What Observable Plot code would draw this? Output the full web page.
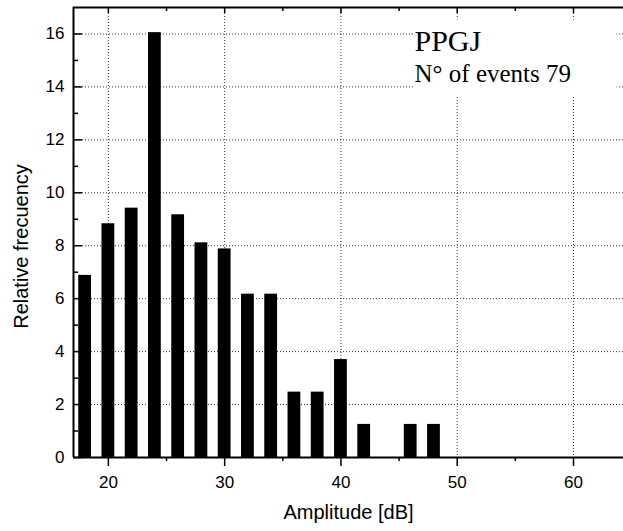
<!DOCTYPE html>
<html>
<head>
<meta charset="utf-8">
<script src="https://cdn.jsdelivr.net/npm/d3@7"></script>
<script src="https://cdn.jsdelivr.net/npm/@observablehq/plot@0.6"></script>
<style>
  body { margin: 0; background: #fff; }
</style>
</head>
<body>
<div id="chart"></div>
<script>
// ---- data ----
const amplitudes = [18, 20, 22, 24, 26, 28, 30, 32, 34, 36, 38, 40, 42, 44, 46, 48];
const frequencies = [6.88, 8.83, 9.42, 16.05, 9.17, 8.11, 7.88, 6.17, 6.17, 2.47, 2.47, 3.70, 1.25, 0, 1.25, 1.25];
const xMajorTicks = [20, 30, 40, 50, 60];
const xMinorTicks = [25, 35, 45, 55];
const yMajorTicks = [0, 2, 4, 6, 8, 10, 12, 14, 16];
const yMinorTicks = [1, 3, 5, 7, 9, 11, 13, 15];
const xDomain = [17, 64.3];
const yDomain = [0, 17];
const xTitle = "Amplitude [dB]";
const yTitle = "Relative frecuency";
const annotationTitle = "PPGJ";
const annotationSub = "N° of events 79";
const barHalfWidth = 0.55;

const data = amplitudes.map((a, i) => ({amp: a, freq: frequencies[i]}));
const blank = () => "";
const gridStyle = {stroke: "#000", strokeOpacity: 0.8, strokeDasharray: "1,2", strokeWidth: 1};
const serif = "'Liberation Serif', 'Times New Roman', serif";

const chart = Plot.plot({
  width: 623,
  height: 531,
  marginLeft: 73,
  marginRight: 0,
  marginTop: 7,
  marginBottom: 74,
  style: {fontFamily: "'Liberation Sans', Arial, sans-serif", fontSize: "17px", background: "#fff", color: "#000"},
  x: {domain: xDomain, label: null},
  y: {domain: yDomain, label: null},
  marks: [
    Plot.gridY(yMajorTicks.filter(d => d > 0), gridStyle),
    Plot.gridX(xMajorTicks, gridStyle),
    Plot.rectY(data, {x1: d => d.amp - barHalfWidth, x2: d => d.amp + barHalfWidth, y: "freq", fill: "#000"}),
    // white box behind the annotation
    Plot.frame({fill: "#fff", stroke: null, insetLeft: 340, insetRight: 7, insetTop: 12, insetBottom: 361}),
    Plot.text([annotationTitle], {text: d => d, frameAnchor: "top-left", dx: 341, dy: 33.4, textAnchor: "start", lineAnchor: "middle", fontSize: 30, fontFamily: serif, fill: "#000"}),
    Plot.text([annotationSub], {text: d => d, frameAnchor: "top-left", dx: 341, dy: 66.7, textAnchor: "start", lineAnchor: "middle", fontSize: 25, fontFamily: serif, fill: "#000"}),
    // frame lines
    Plot.ruleX([xDomain[0]], {stroke: "#000", strokeWidth: 2}),
    Plot.ruleY([yDomain[0]], {stroke: "#000", strokeWidth: 2}),
    Plot.ruleY([yDomain[1]], {stroke: "#000", strokeWidth: 2}),
    // bottom axis: outward ticks + labels
    Plot.axisX({anchor: "bottom", ticks: xMajorTicks, tickSize: 9, tickFormat: blank, strokeWidth: 1.5, label: null}),
    Plot.axisX({anchor: "bottom", ticks: xMinorTicks, tickSize: 4, tickFormat: blank, strokeWidth: 1.5, label: null}),
    Plot.axisX({anchor: "bottom", ticks: xMajorTicks, tickSize: 0, tickPadding: 18, fontSize: 17, label: null}),
    // top axis: inward ticks
    Plot.axisX({anchor: "top", ticks: xMajorTicks, tickSize: -5, tickFormat: blank, strokeWidth: 1.5, label: null}),
    Plot.axisX({anchor: "top", ticks: xMinorTicks, tickSize: -3, tickFormat: blank, strokeWidth: 1.5, label: null}),
    // left axis: inward ticks + labels
    Plot.axisY({anchor: "left", ticks: yMajorTicks, tickSize: -9, tickFormat: blank, strokeWidth: 1.5, label: null}),
    Plot.axisY({anchor: "left", ticks: yMinorTicks, tickSize: -5, tickFormat: blank, strokeWidth: 1.5, label: null}),
    Plot.axisY({anchor: "left", ticks: yMajorTicks, tickSize: 0, tickPadding: 9, fontSize: 17, label: null}),
    // axis titles
    Plot.text([xTitle], {text: d => d, frameAnchor: "bottom", dy: 55, textAnchor: "middle", lineAnchor: "middle", fontSize: 20, fill: "#000"}),
    Plot.text([yTitle], {text: d => d, frameAnchor: "left", rotate: -90, dx: -52, dy: 14, textAnchor: "middle", lineAnchor: "middle", fontSize: 20, fill: "#000"})
  ]
});
document.getElementById("chart").appendChild(chart);
</script>
</body>
</html>
